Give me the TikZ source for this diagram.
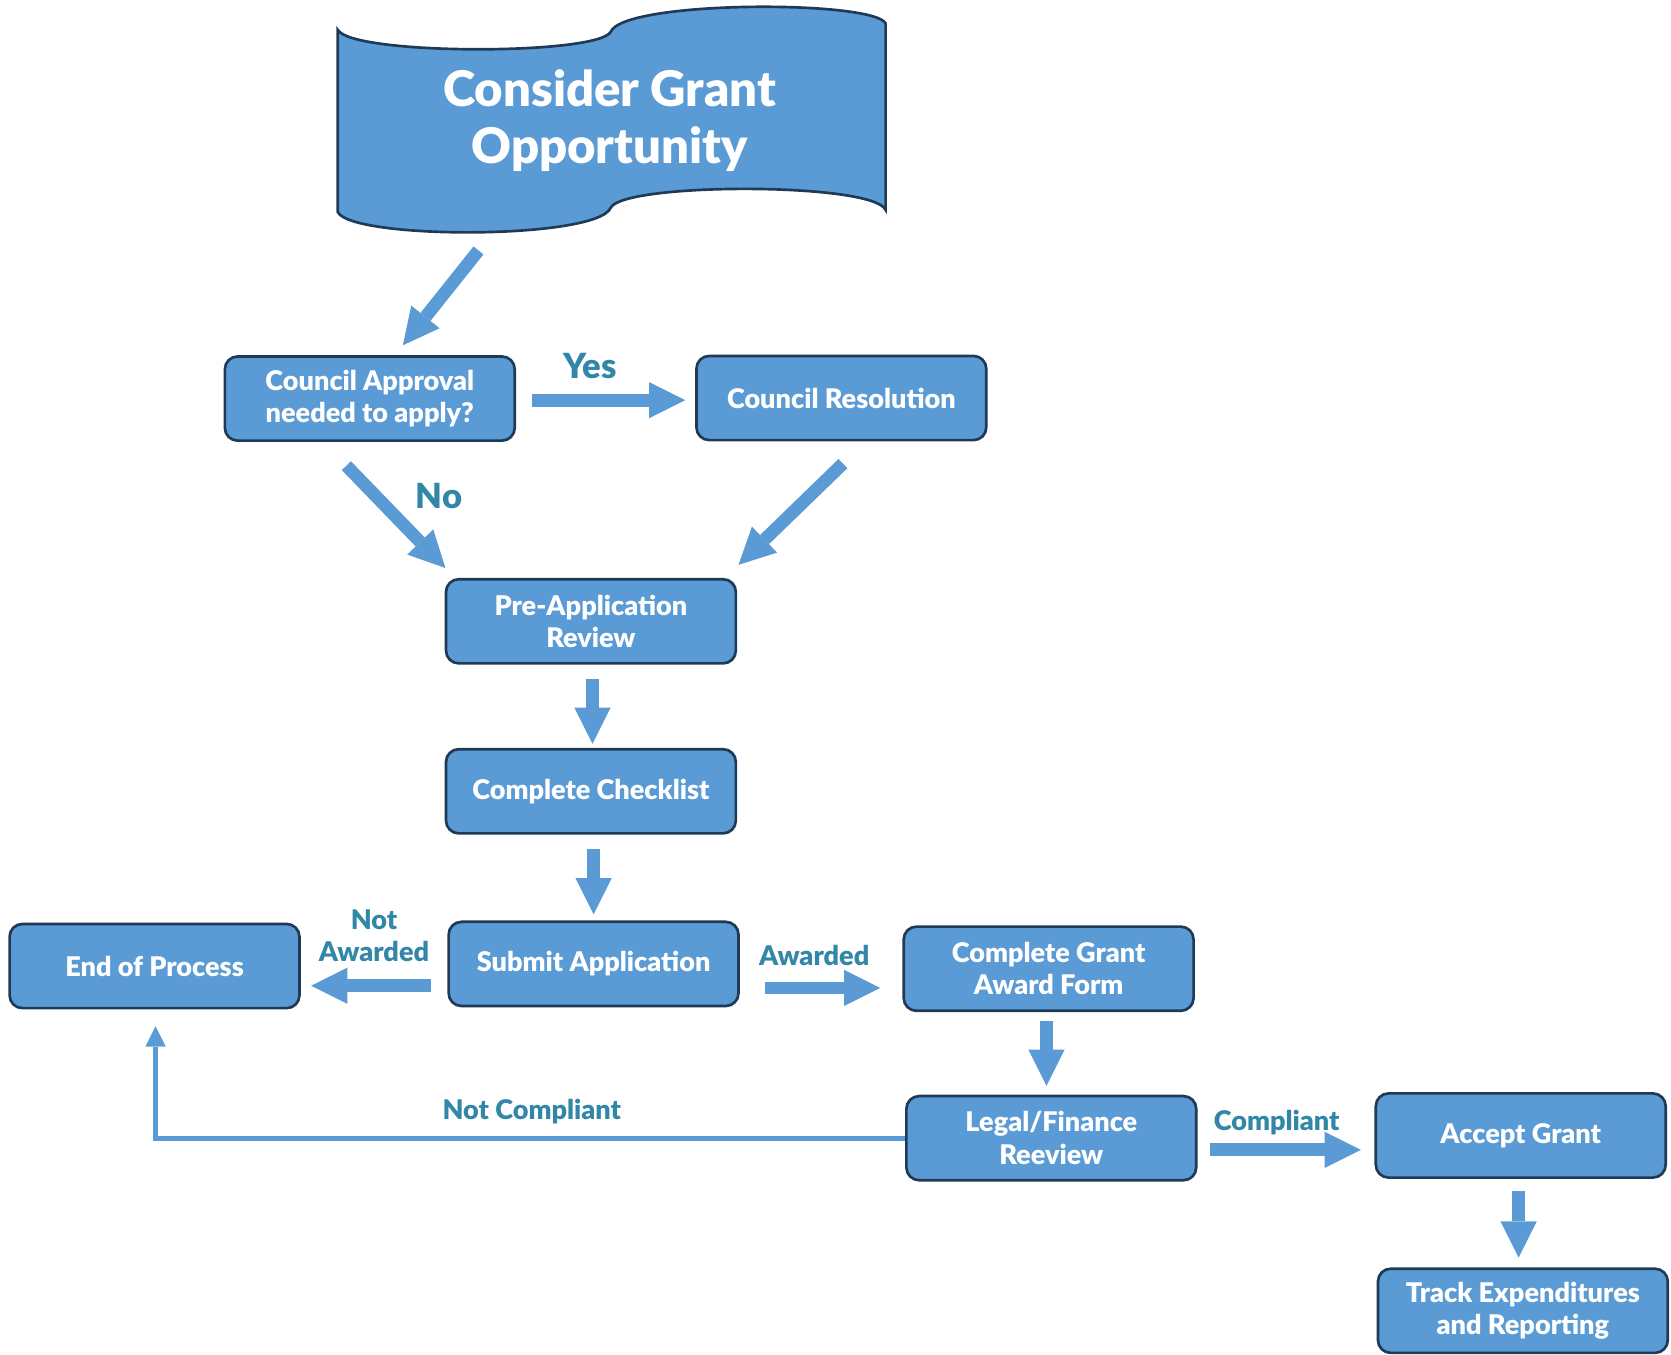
\documentclass[tikz,border=0pt]{standalone}
\usepackage{fontspec}
\setmainfont{Lato}[BoldFont={Lato Black}]
\usetikzlibrary{arrows.meta}
\definecolor{boxfill}{HTML}{5B9BD5}
\definecolor{boxline}{HTML}{1F3A56}
\definecolor{lbl}{HTML}{3287A8}
\tikzset{
 box/.style={draw=boxline, fill=boxfill, line width=2.5pt, rounded corners=12pt,
   minimum width=272pt, minimum height=79pt, text=white,
   font=\bfseries\fontsize{25.4}{30.5}\selectfont, align=center, inner sep=0pt},
 blockarr/.style={draw=boxfill, line width=12pt,
   -{Triangle[length=34pt,width=34pt,line width=0pt]}},
 lab/.style={text=lbl, font=\bfseries\fontsize{25.4}{30.5}\selectfont, align=center, inner sep=0pt},
 biglab/.style={lab, font=\bfseries\fontsize{32.5}{38}\selectfont},
 thinarr/.style={draw=boxfill, line width=4.5pt,
   -{Triangle[length=19pt,width=19pt,line width=0pt]}}
}
\begin{document}
\begin{tikzpicture}[x=1pt,y=-1pt]
\useasboundingbox (0,0) rectangle (1568,1270.6);
% banner
\draw[draw=boxline, fill=boxfill, line width=2.5pt]
  (317,28) .. controls (330,52) and (560,52) .. (573,30)
  .. controls (585,0) and (820,0) .. (831,22)
  -- (831,197)
  .. controls (820,171) and (585,171) .. (573,195)
  .. controls (560,225) and (330,225) .. (317,199) -- cycle;
\node[text=white, font=\bfseries\fontsize{46}{54}\selectfont, align=center] (cons) at (572,113) {Consider Grant\\Opportunity};
% boxes
\node[box] (ca)  at (347,374)  {Council Approval\\needed to apply?};
\node[box] (cr)  at (789.5,373.5) {Council Resolution};
\node[box] (pre) at (554.5,583) {Pre-Application\\Review};
\node[box] (chk) at (554.5,742.5) {Complete Checklist};
\node[box] (sub) at (557,904.5)  {Submit Application};
\node[box] (eop) at (145,906.5)  {End of Process};
\node[box] (awd) at (984,909)  {Complete Grant\\Award Form};
\node[box] (leg) at (986.5,1068) {Legal/Finance\\Reeview};
\node[box] (acc) at (1427,1065.5) {Accept Grant};
\node[box] (trk) at (1429,1230) {Track Expenditures\\and Reporting};
% arrow end points
\coordinate (a1s) at (449,235);   \coordinate (a1e) at (378,324);
\coordinate (a2s) at (499,375.5); \coordinate (a2e) at (643,375.5);
\coordinate (a3s) at (325,437);   \coordinate (a3e) at (418,533);
\coordinate (a4s) at (791,435);   \coordinate (a4e) at (693,530);
\coordinate (a5s) at (556,637);   \coordinate (a5e) at (556,698);
\coordinate (a6s) at (557,797);   \coordinate (a6e) at (557,858);
\coordinate (a7s) at (404,925);   \coordinate (a7e) at (292,925);
\coordinate (a8s) at (718,927);   \coordinate (a8e) at (826,927);
\coordinate (a9s) at (982,958);   \coordinate (a9e) at (982,1019);
\coordinate (a10s) at (1135,1079); \coordinate (a10e) at (1277,1079);
\coordinate (a11s) at (1425,1118); \coordinate (a11e) at (1425,1180);
\draw[blockarr] (a1s) -- (a1e);
\draw[blockarr] (a2s) -- (a2e);
\draw[blockarr] (a3s) -- (a3e);
\draw[blockarr] (a4s) -- (a4e);
\draw[blockarr] (a5s) -- (a5e);
\draw[blockarr] (a6s) -- (a6e);
\draw[blockarr] (a7s) -- (a7e);
\draw[blockarr] (a8s) -- (a8e);
\draw[blockarr] (a9s) -- (a9e);
\draw[blockarr] (a10s) -- (a10e);
\draw[blockarr] (a11s) -- (a11e);
% not compliant
\coordinate (nce) at (146,963);
\draw[thinarr] (leg.west |- 0,1068) -| (nce);
% labels
\node[biglab] (lyes) at (554,343) {Yes};
\node[biglab] (lno)  at (412,465) {No};
\node[lab] (lna) at (351,878) {Not\\Awarded};
\node[lab] (law) at (764,897) {Awarded};
\node[lab] (lnc) at (499,1043) {Not Compliant};
\node[lab] (lco) at (1198,1053) {Compliant};
\end{tikzpicture}
\end{document}
